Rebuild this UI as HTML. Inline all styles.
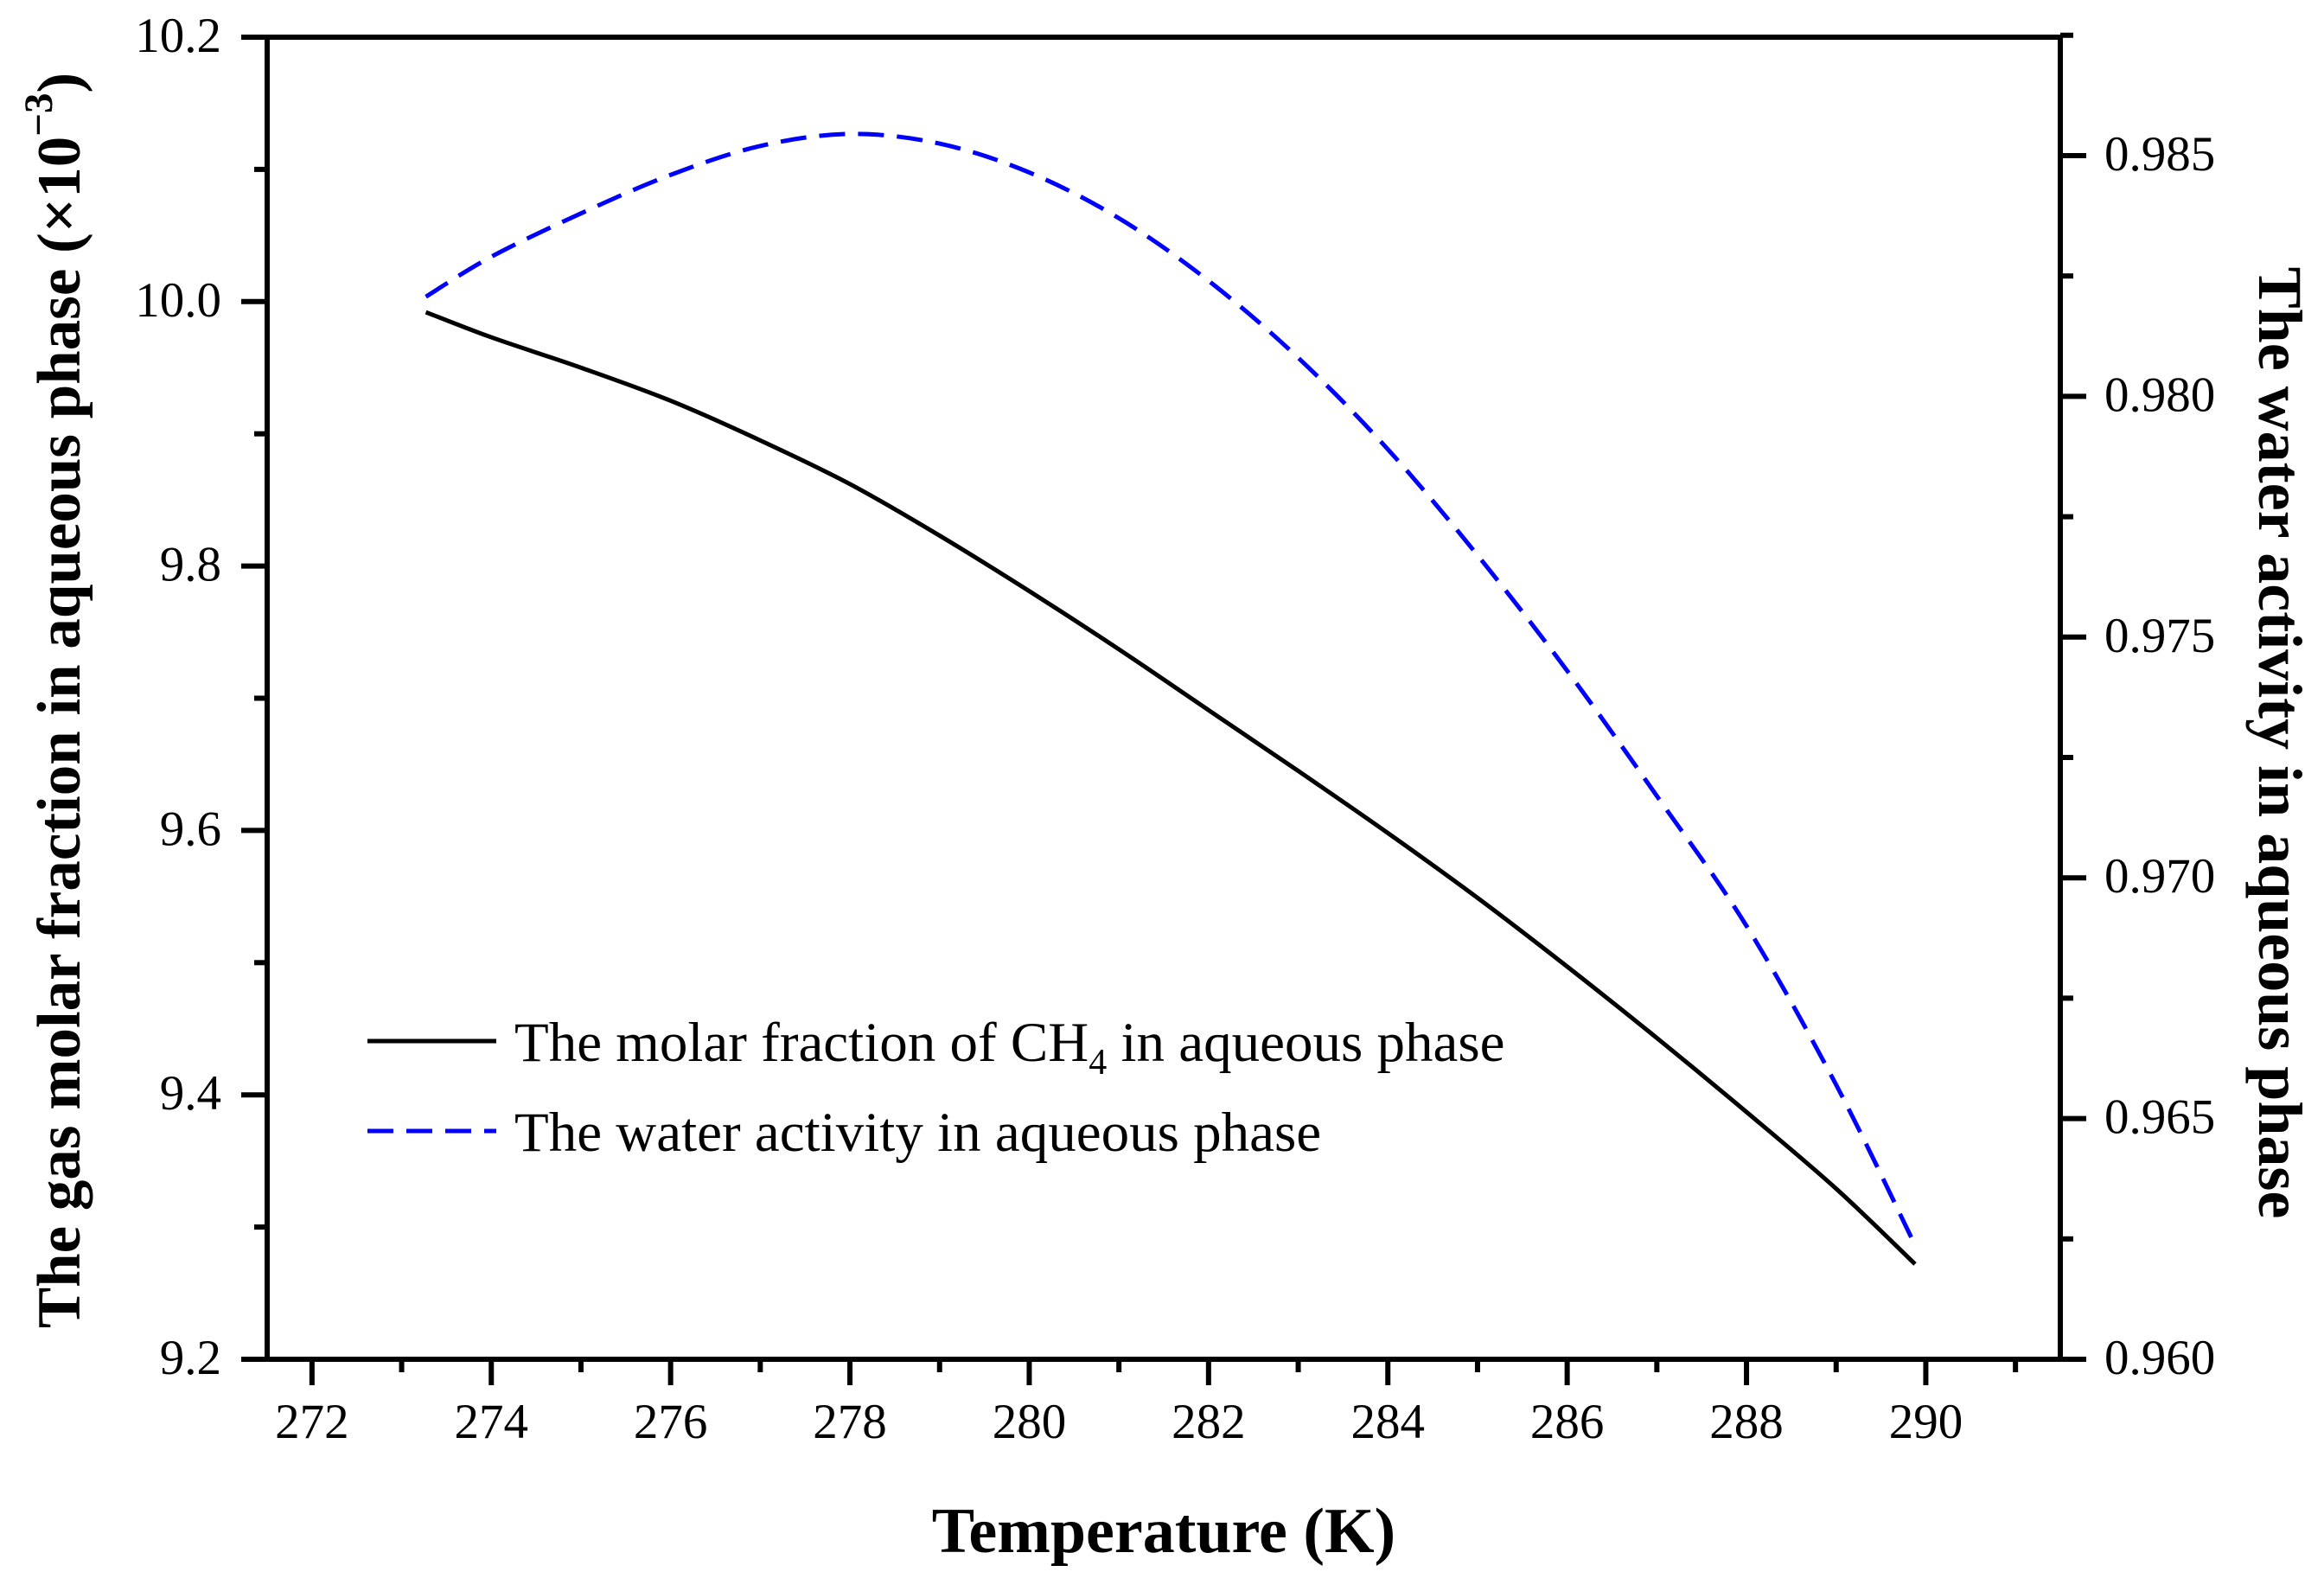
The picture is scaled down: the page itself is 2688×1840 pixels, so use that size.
<!DOCTYPE html>
<html><head><meta charset="utf-8"><style>
html,body{margin:0;padding:0;background:#fff;}
svg{display:block;font-family:"Liberation Serif",serif;}
</style></head><body>
<svg id="chart" width="2688" height="1840" viewBox="0 0 2688 1840" xmlns="http://www.w3.org/2000/svg">
<g id="axes"></g>
<g id="series"></g>
<g id="legend">
  <line x1="425" y1="1204" x2="574" y2="1204" stroke="#000" stroke-width="5"/>
  <text x="595" y="1227" font-size="65">The molar fraction of CH<tspan font-size="42" dy="15">4</tspan><tspan dy="-15"> in aqueous phase</tspan></text>
  <line x1="425" y1="1308" x2="574" y2="1308" stroke="#0000ff" stroke-width="5" stroke-dasharray="30,15"/>
  <text x="595" y="1331" font-size="65">The water activity in aqueous phase</text>
</g>
<text x="1346" y="1795" font-size="74" font-weight="bold" text-anchor="middle">Temperature (K)</text>
<text transform="translate(92,810) rotate(-90)" font-size="71" font-weight="bold" text-anchor="middle">The gas molar fraction in aqueous phase (×10<tspan font-size="47" dy="-32">−3</tspan><tspan dy="32">)</tspan></text>
<text transform="translate(2613,859) rotate(90)" font-size="72" font-weight="bold" text-anchor="middle">The water activity in aqueous phase</text>
</svg>
<script>
const temps = [273.27, 274, 275, 276, 277, 278, 279, 280, 281, 282, 283, 284, 285, 286, 287, 288, 289, 289.88];
const ch4Fraction = [9.992, 9.973, 9.950, 9.925, 9.895, 9.862, 9.823, 9.781, 9.737, 9.691, 9.645, 9.598, 9.549, 9.497, 9.443, 9.387, 9.329, 9.272];
const waterTemps = [273.27, 274, 275, 276, 277, 278, 279, 280, 281, 282, 283, 284, 285, 286, 287, 288, 289, 289.88];
const waterActivity = [0.98207, 0.98290, 0.98380, 0.98460, 0.98520, 0.98545, 0.98525, 0.98465, 0.98370, 0.98240, 0.98080, 0.97890, 0.97670, 0.97430, 0.97170, 0.96900, 0.96570, 0.96237];
const xTicks = [272, 274, 276, 278, 280, 282, 284, 286, 288, 290];
const yLeftTicks = ["9.2", "9.4", "9.6", "9.8", "10.0", "10.2"];
const yRightTicks = ["0.960", "0.965", "0.970", "0.975", "0.980", "0.985"];

const L=309, R=2383, T=43, B=1572;
const xMin=271.5, xMax=291.5, yLMin=9.2, yLMax=10.2, yRMin=0.960, yRMax=0.98746;
const sx = v => L + (v - xMin) / (xMax - xMin) * (R - L);
const syL = v => B - (v - yLMin) / (yLMax - yLMin) * (B - T);
const syR = v => B - (v - yRMin) / (yRMax - yRMin) * (B - T);
const NS="http://www.w3.org/2000/svg";
function mk(tag, attrs, parent){const e=document.createElementNS(NS,tag);for(const k in attrs)e.setAttribute(k,attrs[k]);parent.appendChild(e);return e;}
const axes=document.getElementById('axes');
const frame=mk('rect',{x:L,y:T,width:R-L,height:B-T,fill:'none',stroke:'#000','stroke-width':6},axes);


for(let v=272; v<=291; v++){
  const major = v%2===0;
  const t=mk('line',{x1:sx(v),x2:sx(v),y1:B,y2:B+(major?30:15),stroke:'#000','stroke-width':6},axes);
  
  
}
xTicks.forEach(v=>{
  const t=mk('text',{x:sx(v),y:1663,'font-size':57,'text-anchor':'middle'},axes);
  t.textContent=String(v);
  
  
});
for(let i=0;i<=10;i++){
  const v=yLMin+i*0.1, major=i%2===0;
  const t=mk('line',{x1:L,x2:L-(major?30:15),y1:syL(v),y2:syL(v),stroke:'#000','stroke-width':6},axes);
  
  
}
yLeftTicks.forEach(s=>{
  const t=mk('text',{x:256,y:syL(parseFloat(s))+17,'font-size':57,'text-anchor':'end'},axes);
  t.textContent=s;
  
  
});
for(let i=0;i<=11;i++){
  const v=yRMin+i*0.0025, major=i%2===0;
  const t=mk('line',{x1:R,x2:R+(major?30:15),y1:syR(v),y2:syR(v),stroke:'#000','stroke-width':6},axes);
  
  
}
yRightTicks.forEach(s=>{
  const t=mk('text',{x:2434,y:syR(parseFloat(s))+17,'font-size':57},axes);
  t.textContent=s;
  
  
});
function smoothPath(pts){
  let d=`M${pts[0][0]},${pts[0][1]}`;
  for(let i=0;i<pts.length-1;i++){
    const p0=pts[Math.max(0,i-1)],p1=pts[i],p2=pts[i+1],p3=pts[Math.min(pts.length-1,i+2)];
    const c1=[p1[0]+(p2[0]-p0[0])/6,p1[1]+(p2[1]-p0[1])/6];
    const c2=[p2[0]-(p3[0]-p1[0])/6,p2[1]-(p3[1]-p1[1])/6];
    d+=` C${c1[0]},${c1[1]} ${c2[0]},${c2[1]} ${p2[0]},${p2[1]}`;
  }
  return d;
}
const series=document.getElementById('series');
const p1=mk('path',{d:smoothPath(temps.map((t,i)=>[sx(t),syL(ch4Fraction[i])])),fill:'none',stroke:'#000','stroke-width':5},series);


const p2=mk('path',{d:smoothPath(waterTemps.map((t,i)=>[sx(t),syR(waterActivity[i])])),fill:'none',stroke:'#0000ff','stroke-width':5,'stroke-dasharray':'30,15'},series);


</script>
</body></html>
